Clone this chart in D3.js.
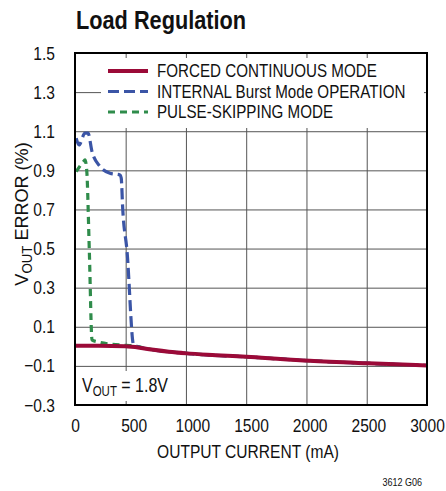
<!DOCTYPE html>
<html>
<head>
<meta charset="utf-8">
<script src="https://cdn.jsdelivr.net/npm/d3@7"></script>
<style>
  body { margin: 0; background: #fff; }
  svg { display: block; font-family: "Liberation Sans", Arial, sans-serif; }
</style>
</head>
<body>
<svg width="446" height="491"></svg>
<script>
// data (current in mA, error in %)
const forcedCurrent = [0, 200, 430, 550, 670, 800, 950, 1200, 1500, 2000, 2500, 3000];
const forcedError   = [0.003, 0.003, 0.0, -0.007, -0.018, -0.028, -0.036, -0.045, -0.055, -0.074, -0.087, -0.098];

const burstCurrent = [10, 34, 85, 111, 145, 213, 298, 384, 394, 407, 443, 500, 670, 950, 1500, 2000, 2500, 3000];
const burstError   = [1.064, 1.03, 1.09, 1.09, 0.996, 0.92, 0.885, 0.876, 0.86, 0.70, 0.49, 0.006, -0.018, -0.036, -0.055, -0.074, -0.087, -0.098];

const skipCurrent = [10, 71, 85, 100, 122, 145, 185, 384, 500, 670, 950, 1500, 2000, 2500, 3000];
const skipError   = [0.893, 0.944, 0.953, 0.90, 0.49, 0.033, 0.024, 0.007, 0.002, -0.018, -0.036, -0.055, -0.074, -0.087, -0.098];

const xTicks = [0, 500, 1000, 1500, 2000, 2500, 3000];
const xGrid = [500, 1000, 1500, 2000, 2500];
const yTicks = [1.5, 1.3, 1.1, 0.9, 0.7, 0.5, 0.3, 0.1, -0.1, -0.3];
const yGrid = [1.3, 1.1, 0.9, 0.7, 0.5, 0.3, 0.1, -0.1];

const seriesNames = ["FORCED CONTINUOUS MODE", "INTERNAL Burst Mode OPERATION", "PULSE-SKIPPING MODE"];

let svg = d3.select("svg"),
    margin = {top: 53, left: 75},
    width = 352,
    height = 352,
    narrow = 0.82; // condensed look from a regular face

let x = d3.scaleLinear().domain([0, 3000]).range([0, width]);
// the printed grid is spaced a little wider than the labels
let xg = d3.scaleLinear().domain([0, 3000]).range([-9.6, width]);
let y = d3.scaleLinear().domain([-0.3, 1.5]).range([height, 0]);

// text squeezed horizontally inside its own group
function squeezed(parent, tx, ty, size, sx, rot) {
  return parent.append("g")
      .attr("transform", "translate(" + tx + "," + ty + ")" + (rot ? " rotate(" + rot + ")" : "") + " scale(" + sx + ",1)")
    .append("text")
      .attr("font-size", size)
      .attr("fill", "#111");
}

let focus = svg.append("g")
    .attr("transform", "translate(" + margin.left + "," + margin.top + ")");

// grid
let gx = focus.append("g")
    .attr("transform", "translate(0," + height + ")")
    .call(d3.axisBottom(xg).tickValues(xGrid).tickSize(-height).tickFormat(""));
let gy = focus.append("g")
    .call(d3.axisLeft(y).tickValues(yGrid).tickSize(-width).tickFormat(""));
[gx, gy].forEach(g => {
  g.select(".domain").remove();
  g.selectAll("line").attr("stroke", "#555").attr("stroke-width", 1);
});

// white boxes behind legend and V_OUT note
focus.append("rect")
    .attr("x", 26).attr("y", 5).attr("width", 323).attr("height", 70)
    .attr("fill", "#fff");
focus.append("rect")
    .attr("x", 1).attr("y", 318).attr("width", 104).attr("height", 30)
    .attr("fill", "#fff");

const series = [
  {cur: skipCurrent, err: skipError, color: "#2f8c4b", width: 3.2, dash: "7,5"},
  {cur: burstCurrent, err: burstError, color: "#3b55a6", width: 3.2, dash: "11,5"},
  {cur: forcedCurrent, err: forcedError, color: "#9b0a38", width: 4, dash: null}
];

let line = d3.line()
    .x(d => x(d[0]))
    .y(d => y(d[1]))
    .curve(d3.curveMonotoneX);

series.forEach(s => {
  focus.append("path")
      .datum(s.cur.map((c, i) => [c, s.err[i]]))
      .attr("fill", "none")
      .attr("stroke", s.color)
      .attr("stroke-width", s.width)
      .attr("stroke-dasharray", s.dash)
      .attr("d", line);
});

// frame
focus.append("rect")
    .attr("width", width).attr("height", height)
    .attr("fill", "none").attr("stroke", "#000").attr("stroke-width", 2);

// tick labels
let ax = focus.append("g")
    .attr("transform", "translate(0," + height + ")")
    .call(d3.axisBottom(x).tickValues(xTicks).tickSize(0).tickPadding(13.5).tickFormat(d3.format("d")));
let ay = focus.append("g")
    .call(d3.axisLeft(y).tickValues(yTicks).tickSize(0).tickPadding(20).tickFormat(d3.format(".1f")));
[ax, ay].forEach(g => {
  g.select(".domain").remove();
  g.attr("font-family", null).attr("font-size", 19);
  g.selectAll("text").attr("fill", "#111").attr("transform", "scale(" + narrow + ",1)");
});
ay.selectAll("text").attr("x", -20 / narrow);

// legend
let legend = focus.append("g").attr("transform", "translate(33,18)");
[series[2], series[1], series[0]].forEach((s, i) => {
  let row = legend.append("g").attr("transform", "translate(0," + (i * 20.5) + ")");
  row.append("line")
      .attr("x1", 0).attr("x2", 40)
      .attr("stroke", s.color)
      .attr("stroke-width", s.width)
      .attr("stroke-dasharray", s.dash);
  squeezed(row, 49, 0, 18.5, narrow)
      .attr("dy", "0.35em")
      .text(seriesNames[i]);
});

// V_OUT note
let note = squeezed(focus, 7, 339, 19.5, narrow);
note.append("tspan").text("V");
note.append("tspan").attr("font-size", 14).attr("dy", 4).text("OUT");
note.append("tspan").attr("dy", -4).text(" = 1.8V");

// title
squeezed(svg, 76, 29, 26.5, narrow)
    .attr("font-weight", "bold")
    .text("Load Regulation");

// x axis title
squeezed(svg, 248, 458, 19, narrow)
    .attr("text-anchor", "middle")
    .text("OUTPUT CURRENT (mA)");

// y axis title
let yt = squeezed(svg, 28, 214, 19, 0.95, -90)
    .attr("text-anchor", "middle");
yt.append("tspan").text("V");
yt.append("tspan").attr("font-size", 14).attr("dy", 4).text("OUT");
yt.append("tspan").attr("dy", -4).text(" ERROR (%)");

squeezed(svg, 422, 486, 11, narrow)
    .attr("text-anchor", "end")
    .text("3612 G06");
</script>
</body>
</html>
